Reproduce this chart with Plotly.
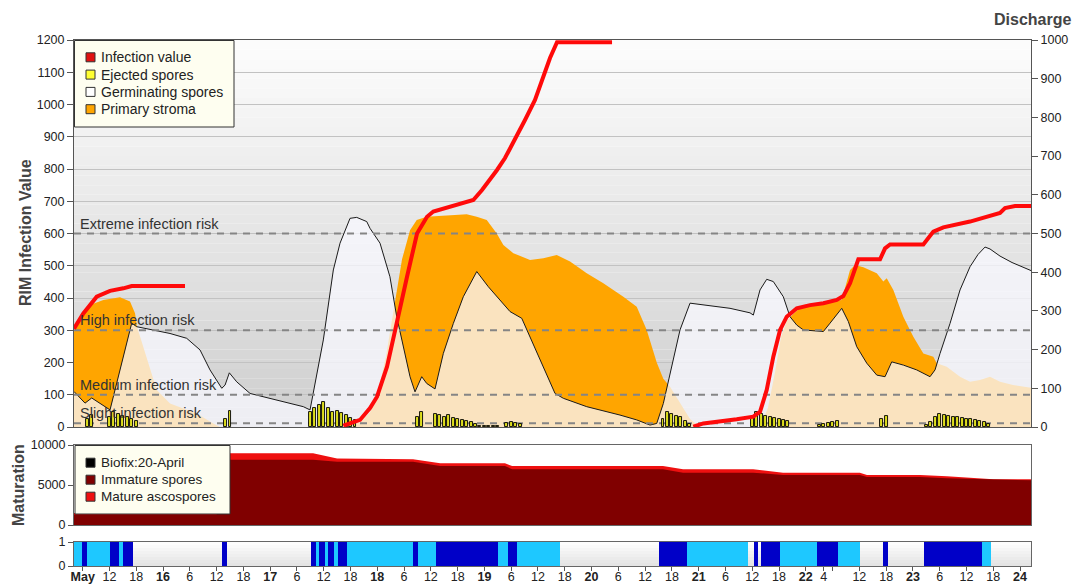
import plotly.graph_objects as go

# ---------------- data (x = hours after 15 May 00:00) ----------------
germ_hours = [4.05, 6.52, 8.02, 12.12, 16.98, 18.10, 25.56, 29.30, 32.28, 34.52,
              37.15, 37.89, 38.85, 40.51, 43.49, 47.97, 55.43, 56.93, 59.91, 62.15,
              63.65, 65.89, 67.39, 69.63, 70.37, 72.61, 74.83, 76.35, 77.83, 79.33,
              80.45, 81.95, 83.07, 84.93, 86.79, 89.03, 91.27, 94.28, 96.87, 99.50,
              101.73, 104.36, 106.22, 109.20, 111.82, 113.68, 118.92, 126.38, 130.12, 133.10,
              134.60, 136.08, 137.58, 139.82, 142.06, 145.04, 151.02, 155.50, 156.24, 157.74,
              159.24, 160.72, 162.96, 164.46, 165.97, 167.45, 171.93, 173.43, 176.05, 177.53,
              179.41, 181.65, 183.89, 185.75, 187.25, 189.85, 192.85, 195.83, 196.95, 198.07,
              200.31, 202.55, 204.79, 206.58, 208.15, 209.27, 211.51, 214.20, 218.45]
germ_values = [110, 74, 90, 53, 322, 311, 290, 275, 239, 177,
               120, 130, 168, 140, 104, 89, 63, 53, 270, 487,
               570, 647, 650, 637, 616, 570, 466, 342, 249, 156,
               109, 156, 135, 118, 228, 321, 404, 482, 435, 394,
               358, 337, 280, 187, 104, 89, 63, 37, 22, 6,
               11, 73, 165, 301, 384, 378, 368, 354, 347, 425,
               458, 451, 404, 342, 316, 301, 296, 322, 368, 327,
               249, 198, 161, 156, 202, 192, 177, 156, 177, 228,
               321, 425, 497, 535, 558, 552, 530, 510, 485]

stroma_hours = [4.05, 7.64, 10.62, 14.36, 16.60, 17.72, 18.17, 19.58, 21.08, 22.58,
                25.56, 31.54, 35.26, 36.76, 64.75, 68.12, 70.37, 72.16, 73.96, 75.75,
                77.54, 79.33, 80.83, 83.07, 89.03, 92.03, 94.28, 96.52, 98.76, 100.24,
                102.48, 106.22, 109.20, 112.20, 115.18, 118.92, 122.64, 127.12, 130.12, 132.36,
                134.60, 136.08, 137.58, 139.82, 142.06, 144.30, 157.74, 159.53, 161.10, 162.45,
                163.79, 165.13, 167.45, 173.43, 176.05, 177.91, 179.03, 180.89, 183.89, 185.37,
                186.13, 187.61, 189.85, 192.09, 194.33, 196.57, 197.33, 199.57, 202.55, 204.79,
                207.03, 209.27, 211.51, 214.42, 218.45]
stroma_values = [295, 378, 394, 402, 389, 353, 311, 249, 177, 115,
                 73, 42, 11, 0, 0, 15, 45, 110, 220, 370,
                 520, 610, 642, 652, 657, 660, 652, 642, 600, 564,
                 539, 518, 523, 533, 513, 477, 446, 404, 373, 301,
                 200, 150, 125, 74, 25, 0, 0, 60, 170, 280,
                 330, 350, 378, 389, 394, 487, 502, 495, 477, 451,
                 461, 425, 342, 280, 228, 218, 198, 187, 156, 140,
                 146, 156, 140, 130, 122]

infection_hours = [4.05, 6.14, 9.14, 12.12, 15.10, 16.98, 28.92, None,
                   64.39, 68.13, 70.37, 71.94, 74.18, 76.42, 78.66, 80.90, 83.14, 84.55,
                   93.51, 95.46, 97.24, 98.82, 100.61, 102.85, 105.09, 107.33, 109.57, 110.69,
                   112.26, 124.59, None,
                   142.80, 145.04, 152.52, 156.24, 157.74, 159.24, 160.72, 162.23, 163.73, 165.97,
                   168.95, 171.93, 174.93, 176.41, 177.91, 179.41, 179.77, 184.63, 185.75, 186.87,
                   194.33, 196.57, 198.81, 204.79, 211.51, 212.63, 214.87, 218.45]
infection_values = [305, 352, 404, 422, 430, 437, 437, None,
                    4, 22, 59, 94, 187, 332, 466, 600, 652, 668,
                    704, 735, 766, 797, 834, 890, 952, 1014, 1101, 1144,
                    1193, 1193, None,
                    1, 11, 24, 32, 47, 115, 218, 301, 342, 368,
                    378, 384, 394, 406, 446, 513, 520, 520, 554, 566,
                    566, 606, 619, 637, 664, 679, 685, 685]

spore_hours = [7, 8,
               12, 13, 14, 15, 16, 17, 18,
               38, 39,
               57, 58, 59, 60, 61, 62, 63, 64, 65, 66, 67,
               81, 82,
               85, 86, 87, 88, 89, 90, 91, 92, 93, 94, 95, 96, 97, 98, 99,
               101, 102, 103, 104,
               136, 137, 138, 139, 140, 141, 142,
               156, 157, 158, 159, 160, 161, 162, 163, 164,
               171, 172, 173, 174, 175,
               185, 186,
               195, 196, 197, 198, 199, 200, 201, 202, 203, 204, 205, 206, 207, 208, 209]
spore_values = [25, 38,
                30, 48, 40, 35, 30, 25, 20,
                25, 50,
                48, 58, 68, 78, 58, 48, 50, 42, 37, 27, 22,
                30, 45,
                40, 38, 30, 36, 28, 25, 22, 20, 15, 10, 3, 2, 2, 2, 2,
                12, 15, 12, 10,
                25, 45, 40, 35, 30, 20, 10,
                30, 45, 40, 35, 30, 28, 25, 22, 20,
                5, 8, 12, 15, 20,
                25, 35,
                5, 15, 30, 40, 36, 33, 32, 30, 28, 26, 25, 22, 20, 15, 10]

mat_hours = [4.05, 36.0, 38.6, 57.6, 63.0, 80.0, 86.1, 100.6, 102.2, 136.0,
             140.5, 156.2, 162.9, 180.1, 181.7, 193.6, 199.6, 206.4, 210.0, 218.45]
mat_total = [1500, 1500, 8960, 8960, 8300, 8210, 7710, 7710, 7375, 7375,
             6960, 6960, 6540, 6540, 6250, 6250, 6100, 5830, 5710, 5710]
mat_immature = [1300, 1300, 8170, 8170, 7920, 7920, 7375, 7375, 6960, 6960,
                6540, 6540, 6250, 6250, 6000, 6000, 5830, 5710, 5710, 5580]

wet_light_start = [4.05, 14.14, 58.3, 60.3, 62.3, 65.2, 81.1, 99.0, 103.3, 141.4, 162.2, 175.2, 207.5]
wet_light_end = [12.12, 15.03, 58.9, 60.9, 63.2, 80.0, 85.2, 101.3, 112.9, 155.1, 170.5, 180.1, 209.5]
wet_dark_start = [5.85, 12.12, 15.03, 37.2, 57.1, 58.9, 60.9, 63.2, 80.0, 85.2, 101.3,
                  135.1, 156.4, 157.9, 170.5, 185.3, 194.5]
wet_dark_end = [6.97, 14.14, 17.27, 38.3, 58.3, 60.3, 62.3, 65.2, 81.1, 99.0, 103.3,
                141.4, 157.3, 162.2, 175.2, 186.4, 207.5]

risk_levels = [600, 300, 100, 12]
risk_labels = ["Extreme infection risk", "High infection risk",
               "Medium infection risk", "Slight infection risk"]

tick_hours = [6, 12, 18, 24, 30, 36, 42, 48, 54, 60, 66, 72, 78, 84, 90, 96, 102, 108,
              114, 120, 126, 132, 138, 144, 150, 156, 162, 168, 172, 174, 180, 186, 192,
              198, 204, 210, 216]
tick_labels = ["<b>May</b>", "12", "18", "<b>16</b>", "6", "12", "18", "<b>17</b>", "6",
               "12", "18", "<b>18</b>", "6", "12", "18", "<b>19</b>", "6", "12", "18",
               "<b>20</b>", "6", "12", "18", "<b>21</b>", "6", "12", "18", "<b>22</b>",
               "4", "", "12", "18", "<b>23</b>", "6", "12", "18", "<b>24</b>"]

# ---------------- geometry ----------------
X0, X1 = 4.05, 218.45
W, H = 1075, 584
ML, MR, MT, MB = 74, 44, 40, 18
PW = W - ML - MR
PH = H - MT - MB


def px(x):
    return (x - ML) / PW


def py(y):
    return (H - MB - y) / PH


FONT = "Liberation Sans, Arial, sans-serif"

fig = go.Figure()

# primary stroma (orange), drawn first
fig.add_trace(go.Scatter(x=stroma_hours, y=stroma_values, mode="lines", fill="tozeroy",
                         fillcolor="#ffa500", line=dict(width=0), xaxis="x", yaxis="y",
                         hoverinfo="skip"))
# germinating spores (translucent lavender with black outline)
fig.add_trace(go.Scatter(x=germ_hours, y=germ_values, mode="lines", fill="tozeroy",
                         fillcolor="rgba(248,248,255,0.75)", line=dict(color="#1a1a1a", width=1),
                         xaxis="x", yaxis="y", hoverinfo="skip"))
# risk threshold lines
for lvl in risk_levels:
    fig.add_trace(go.Scatter(x=[X0, X1], y=[lvl, lvl], mode="lines",
                             line=dict(color="#858585", width=2, dash="7px,6px"),
                             xaxis="x", yaxis="y", hoverinfo="skip"))
# dummy for right axis
fig.add_trace(go.Scatter(x=[X0], y=[0], mode="markers", marker=dict(opacity=0),
                         xaxis="x", yaxis="y2", hoverinfo="skip"))
# ejected spores (on an overlaid copy of the left axis so they sit above the fills)
fig.add_trace(go.Bar(x=spore_hours, y=spore_values, width=0.66,
                     marker=dict(color="#dede1e", line=dict(color="#000000", width=0.9)),
                     xaxis="x", yaxis="y5", hoverinfo="skip"))
# infection value
fig.add_trace(go.Scatter(x=infection_hours, y=infection_values, mode="lines",
                         line=dict(color="#ff0a0a", width=4), connectgaps=False,
                         xaxis="x", yaxis="y5", hoverinfo="skip"))

# maturation
fig.add_trace(go.Scatter(x=mat_hours, y=mat_total, mode="lines", fill="tozeroy",
                         fillcolor="#ee1010", line=dict(width=0), xaxis="x2", yaxis="y3",
                         hoverinfo="skip"))
fig.add_trace(go.Scatter(x=mat_hours, y=mat_immature, mode="lines", fill="tozeroy",
                         fillcolor="#800000", line=dict(width=0), xaxis="x2", yaxis="y3",
                         hoverinfo="skip"))

# wetness strip
fig.add_trace(go.Bar(x=[(s + e) / 2 for s, e in zip(wet_light_start, wet_light_end)],
                     y=[1] * len(wet_light_start), base=0,
                     width=[e - s for s, e in zip(wet_light_start, wet_light_end)],
                     marker=dict(color="#1ec8ff", line=dict(width=0)),
                     xaxis="x3", yaxis="y4", hoverinfo="skip"))
fig.add_trace(go.Bar(x=[(s + e) / 2 for s, e in zip(wet_dark_start, wet_dark_end)],
                     y=[1] * len(wet_dark_start), base=0,
                     width=[e - s for s, e in zip(wet_dark_start, wet_dark_end)],
                     marker=dict(color="#0000c8", line=dict(width=0)),
                     xaxis="x3", yaxis="y4", hoverinfo="skip"))

shapes = []
# background gradient main panel
NB = 40
for i in range(NB):
    g = round(206 + 47 * ((i + 0.5) / NB))
    shapes.append(dict(type="rect", xref="x", yref="y", x0=X0, x1=X1,
                       y0=i * 1200 / NB, y1=(i + 1) * 1200 / NB,
                       fillcolor=f"rgb({g},{g},{g})", line=dict(width=0), layer="below"))
# strip gradient
NS = 8
for i in range(NS):
    g = round(226 + 29 * ((i + 0.5) / NS))
    shapes.append(dict(type="rect", xref="x3", yref="y4", x0=X0, x1=X1,
                       y0=i / NS, y1=(i + 1) / NS,
                       fillcolor=f"rgb({g},{g},{g})", line=dict(width=0), layer="below"))

annotations = []

# legend 1
shapes.append(dict(type="rect", xref="paper", yref="paper", x0=px(74.5), x1=px(234),
                   y0=py(127), y1=py(40.5), fillcolor="#fefef0",
                   line=dict(color="#333333", width=1)))
leg1 = [("Infection value", "#e01010"), ("Ejected spores", "#ffff30"),
        ("Germinating spores", "#ffffff"), ("Primary stroma", "#ffa500")]
for k, (name, col) in enumerate(leg1):
    cy = 57.3 + k * 17.3
    shapes.append(dict(type="rect", xref="paper", yref="paper", x0=px(86), x1=px(95),
                       y0=py(cy + 4.5), y1=py(cy - 4.5), fillcolor=col,
                       line=dict(color="#333333", width=1)))
    annotations.append(dict(text=name, xref="paper", yref="paper", x=px(99), y=py(cy),
                            xanchor="left", yanchor="middle", showarrow=False,
                            font=dict(family=FONT, size=14, color="#222")))

# legend 2
shapes.append(dict(type="rect", xref="paper", yref="paper", x0=px(75), x1=px(230),
                   y0=py(514), y1=py(445.5), fillcolor="#fefef0",
                   line=dict(color="#333333", width=1)))
leg2 = [("Biofix:20-April", "#000000"), ("Immature spores", "#800000"),
        ("Mature ascospores", "#ee1010")]
for k, (name, col) in enumerate(leg2):
    cy = 462.7 + k * 17.0
    shapes.append(dict(type="rect", xref="paper", yref="paper", x0=px(86), x1=px(95),
                       y0=py(cy + 4.5), y1=py(cy - 4.5), fillcolor=col,
                       line=dict(color="#333333", width=1)))
    annotations.append(dict(text=name, xref="paper", yref="paper", x=px(99), y=py(cy),
                            xanchor="left", yanchor="middle", showarrow=False,
                            font=dict(family=FONT, size=13.5, color="#222")))

# risk labels
for lvl, lab in zip(risk_levels, risk_labels):
    annotations.append(dict(text=lab, xref="x", yref="y", x=X0, y=lvl, xshift=4,
                            xanchor="left", yanchor="bottom", showarrow=False,
                            font=dict(family=FONT, size=14.5, color="#333")))

# axis titles
annotations.append(dict(text="<b>RIM Infection Value</b>", xref="paper", yref="paper",
                        x=px(26), y=py(233), textangle=-90, showarrow=False,
                        xanchor="center", yanchor="middle",
                        font=dict(family=FONT, size=16, color="#444")))
annotations.append(dict(text="<b>Maturation</b>", xref="paper", yref="paper",
                        x=px(18), y=py(485), textangle=-90, showarrow=False,
                        xanchor="center", yanchor="middle",
                        font=dict(family=FONT, size=16, color="#444")))
annotations.append(dict(text="<b>Discharge</b>", xref="paper", yref="paper",
                        x=px(1073), y=py(19), showarrow=False,
                        xanchor="right", yanchor="middle",
                        font=dict(family=FONT, size=16, color="#444")))

axcol = "#555555"
fig.update_layout(
    width=W, height=H, margin=dict(l=ML, r=MR, t=MT, b=MB, pad=0, autoexpand=False),
    paper_bgcolor="white", plot_bgcolor="white",
    showlegend=False, barmode="overlay", bargap=0,
    font=dict(family=FONT, size=13, color="#222"),
    xaxis=dict(domain=[0, 1], range=[X0, X1], anchor="y", showticklabels=False, ticks="",
               showline=True, mirror=True, linecolor=axcol, showgrid=False, zeroline=False,
               automargin=False),
    yaxis=dict(domain=[py(427), 1], range=[0, 1200], dtick=100, tick0=0, ticks="outside",
               ticklen=6, tickcolor=axcol, showline=True, linecolor=axcol, showgrid=True,
               gridcolor="#c2c2c2", gridwidth=1, zeroline=False, tickfont=dict(size=12.5),
               automargin=False),
    yaxis2=dict(overlaying="y", side="right", anchor="x", range=[0, 1000], dtick=100,
                tick0=0, ticks="outside", ticklen=6, tickcolor=axcol, showline=True,
                linecolor=axcol, showgrid=False, zeroline=False, tickfont=dict(size=12.5),
                automargin=False),
    yaxis5=dict(overlaying="y", anchor="x", range=[0, 1200], visible=False,
                showgrid=False, zeroline=False, automargin=False),
    xaxis2=dict(domain=[0, 1], range=[X0, X1], anchor="y3", matches="x",
                showticklabels=False, ticks="", showline=True, mirror=True,
                linecolor="#666", showgrid=False, zeroline=False, automargin=False),
    yaxis3=dict(domain=[py(525), py(445)], range=[0, 10000], tickmode="array",
                tickvals=[0, 5000, 10000], ticktext=["0", "5000", "10000"],
                ticks="outside", ticklen=5, tickcolor=axcol, showline=True, mirror=True,
                linecolor="#666", showgrid=False, zeroline=False, tickfont=dict(size=12.5),
                automargin=False),
    xaxis3=dict(domain=[0, 1], range=[X0, X1], anchor="y4", matches="x",
                tickmode="array", tickvals=tick_hours, ticktext=tick_labels, tickangle=0,
                ticks="outside", ticklen=4, tickcolor=axcol, showline=True, mirror=True,
                linecolor="#666", showgrid=False, zeroline=False, tickfont=dict(size=12.5),
                ticklabelstandoff=-5, automargin=False),
    yaxis4=dict(domain=[0, py(542)], range=[0, 1], tickmode="array", tickvals=[0, 1],
                ticktext=["0", "1"], ticks="outside",
                ticklen=5, tickcolor=axcol, showline=True, mirror=True, linecolor="#666",
                showgrid=False, zeroline=False, tickfont=dict(size=12.5), automargin=False),
    shapes=shapes,
    annotations=annotations,
)

fig.write_html("out.html", config={"displayModeBar": False},
               post_script="document.body.style.margin='0px';")
